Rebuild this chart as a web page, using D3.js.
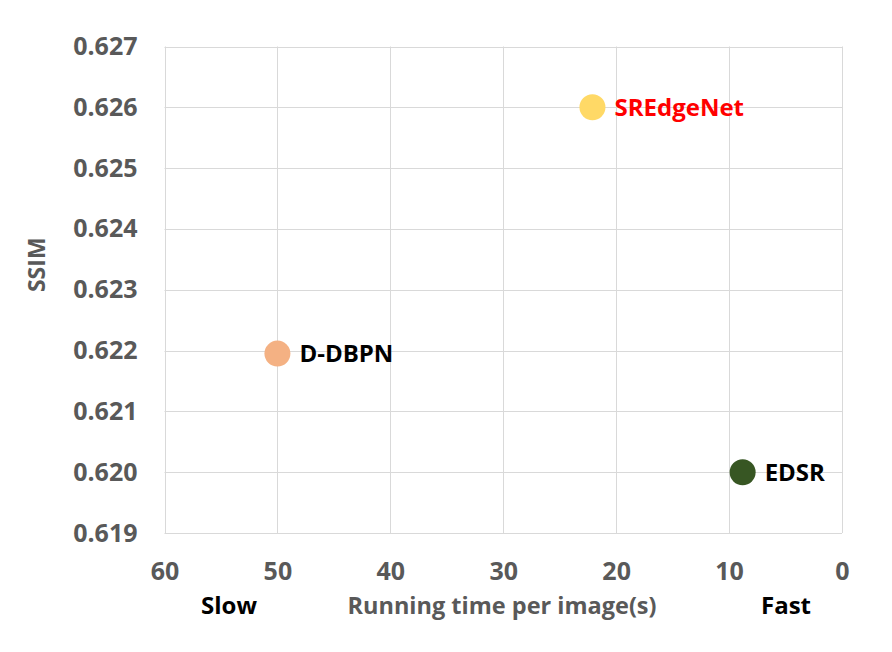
<!DOCTYPE html>
<html>
<head>
<meta charset="utf-8">
<script src="https://cdn.jsdelivr.net/npm/d3@7"></script>
<style>
  body { margin: 0; background: #fff; }
  text { font-family: "Open Sans", "Lato", sans-serif; font-weight: bold; }
</style>
</head>
<body>
<script>
// data
var methods = ['SREdgeNet', 'D-DBPN', 'EDSR'];
var run_time = [22.1, 50.0, 8.8];
var ssim = [0.6260, 0.62195, 0.6200];
var dot_colors = ['#ffd966', '#f4b183', '#375623'];
var label_colors = ['#ff0000', '#000000', '#000000'];
var x_ticks = [60, 50, 40, 30, 20, 10, 0];
var y_ticks = [0.619, 0.620, 0.621, 0.622, 0.623, 0.624, 0.625, 0.626, 0.627];

var width = 892, height = 652;
var left = 164.5, right = 842, top_ = 46.5, bottom = 533;

var svg = d3.select('body').append('svg').attr('width', width).attr('height', height);

var x = d3.scaleLinear().domain([60, 0]).range([left, right]);
var y = d3.scaleLinear().domain([0.619, 0.627]).range([bottom, top_]);

// grid
svg.append('g').selectAll('line').data(x_ticks).enter().append('line')
  .attr('x1', d => Math.round(x(d)) + 0.5).attr('x2', d => Math.round(x(d)) + 0.5)
  .attr('y1', top_).attr('y2', bottom)
  .attr('stroke', '#d9d9d9').attr('stroke-width', 1);
svg.append('g').selectAll('line').data(y_ticks).enter().append('line')
  .attr('x1', left).attr('x2', right)
  .attr('y1', d => Math.round(y(d)) + 0.5).attr('y2', d => Math.round(y(d)) + 0.5)
  .attr('stroke', '#d9d9d9').attr('stroke-width', 1);

// axes
var xAxis = svg.append('g').attr('transform', 'translate(0,' + bottom + ')')
  .call(d3.axisBottom(x).tickValues(x_ticks).tickSize(0).tickPadding(38).tickFormat(d3.format('d')));
var yAxis = svg.append('g').attr('transform', 'translate(' + left + ',0)')
  .call(d3.axisLeft(y).tickValues(y_ticks).tickSize(0).tickPadding(27).tickFormat(d3.format('.3f')));
[xAxis, yAxis].forEach(function(a) {
  a.select('.domain').remove();
  a.selectAll('text').attr('fill', '#595959').attr('font-size', '25px')
    .attr('font-family', '"Open Sans", sans-serif').attr('font-weight', 'bold');
});
xAxis.selectAll('text').attr('dy', '0.35em');

// axis titles
svg.append('text').text('SSIM')
  .attr('transform', 'translate(37,' + ((top_ + bottom) / 2 - 25) + ') rotate(-90)')
  .attr('dy', '0.35em')
  .attr('text-anchor', 'middle').attr('fill', '#595959').attr('font-size', '23px');
svg.append('text').text('Running time per image(s)')
  .attr('x', 502).attr('y', 606).attr('dy', '0.35em').attr('text-anchor', 'middle')
  .attr('fill', '#595959').attr('font-size', '23.5px');
svg.append('text').text('Slow')
  .attr('x', 229).attr('y', 606).attr('dy', '0.35em').attr('text-anchor', 'middle')
  .attr('fill', '#000').attr('font-size', '24px');
svg.append('text').text('Fast')
  .attr('x', 786).attr('y', 606).attr('dy', '0.35em').attr('text-anchor', 'middle')
  .attr('fill', '#000').attr('font-size', '24px');

// points
var pts = svg.append('g').selectAll('g').data(methods).enter().append('g');
pts.append('circle')
  .attr('cx', (d, i) => x(run_time[i])).attr('cy', (d, i) => y(ssim[i]))
  .attr('r', 13).attr('fill', (d, i) => dot_colors[i]);
pts.append('text').text(d => d)
  .attr('x', (d, i) => x(run_time[i]) + 22).attr('y', (d, i) => y(ssim[i]))
  .attr('dy', '0.35em').attr('fill', (d, i) => label_colors[i]).attr('font-size', '24px');
</script>
</body>
</html>
